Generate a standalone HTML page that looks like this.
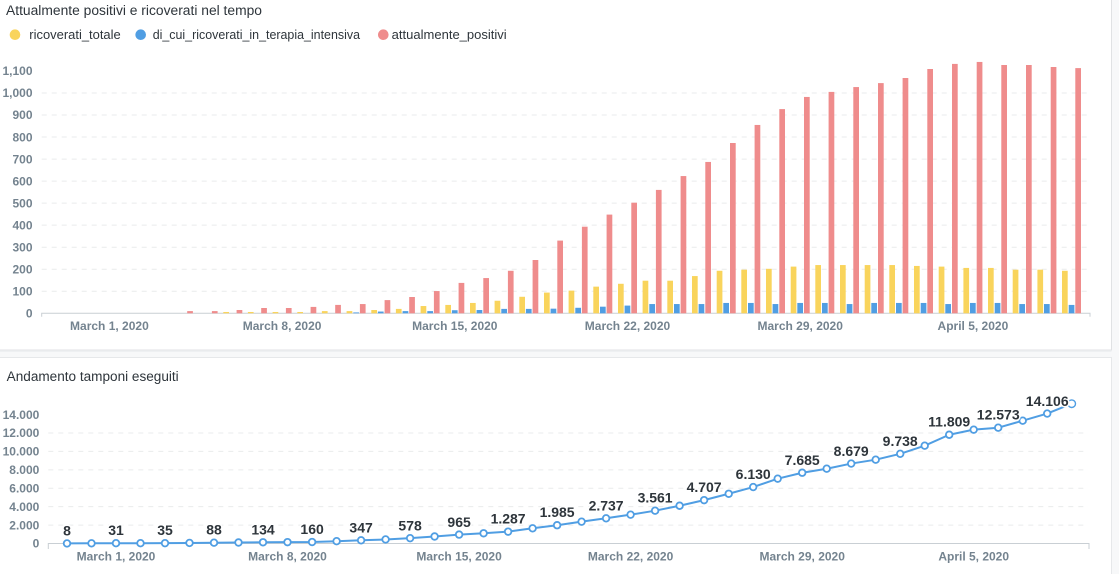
<!DOCTYPE html>
<html><head><meta charset="utf-8"><style>
html,body{margin:0;padding:0;background:#f7f8f9;}
svg{display:block;}
text{font-family:"Liberation Sans",Arial,sans-serif;}
.ax{font-size:12px;font-weight:bold;fill:#74838f;}
.lb{font-size:14px;font-weight:bold;fill:#2e353b;stroke:#fff;stroke-width:3px;paint-order:stroke;stroke-linejoin:round;}
</style></head><body>
<svg width="1119" height="574" viewBox="0 0 1119 574" xmlns="http://www.w3.org/2000/svg">
<rect x="0" y="0" width="1119" height="574" fill="#f7f8f9"/>
<!-- cards -->
<rect x="-3" y="-10" width="1114.5" height="360" fill="#fff" stroke="#e0e2e4" stroke-width="1"/>
<rect x="-3" y="357.5" width="1114.5" height="230" fill="#fff" stroke="#e6e8ea" stroke-width="1"/>
<line x1="-3" y1="351" x2="1111.5" y2="351" stroke="#eceef0" stroke-width="1.5"/>

<!-- TOP CHART -->
<text x="6" y="15" font-size="13.5" fill="#2e353b" textLength="256" lengthAdjust="spacingAndGlyphs">Attualmente positivi e ricoverati nel tempo</text>
<circle cx="15" cy="34.7" r="5.3" fill="#F9D45C"/>
<text x="29.3" y="39" font-size="12.6" fill="#2e353b" textLength="91.4" lengthAdjust="spacingAndGlyphs">ricoverati_totale</text>
<circle cx="140.7" cy="34.7" r="5.3" fill="#509EE3"/>
<text x="152.7" y="39" font-size="12.6" fill="#2e353b" textLength="207.3" lengthAdjust="spacingAndGlyphs">di_cui_ricoverati_in_terapia_intensiva</text>
<circle cx="383.3" cy="34.7" r="5.3" fill="#EF8C8C"/>
<text x="391.7" y="39" font-size="12.6" fill="#2e353b" textLength="115" lengthAdjust="spacingAndGlyphs">attualmente_positivi</text>

<g stroke="#e9ebec" stroke-width="1" stroke-dasharray="5,5">
<line x1="41.7" x2="1089" y1="291.27" y2="291.27"/>
<line x1="41.7" x2="1089" y1="269.24" y2="269.24"/>
<line x1="41.7" x2="1089" y1="247.21" y2="247.21"/>
<line x1="41.7" x2="1089" y1="225.18" y2="225.18"/>
<line x1="41.7" x2="1089" y1="203.15" y2="203.15"/>
<line x1="41.7" x2="1089" y1="181.12" y2="181.12"/>
<line x1="41.7" x2="1089" y1="159.09" y2="159.09"/>
<line x1="41.7" x2="1089" y1="137.06" y2="137.06"/>
<line x1="41.7" x2="1089" y1="115.03" y2="115.03"/>
<line x1="41.7" x2="1089" y1="93.0" y2="93.0"/>
</g>
<g class="ax" text-anchor="end">
<text x="32.5" y="317.5">0</text>
<text x="32.5" y="295.5">100</text>
<text x="32.5" y="273.4">200</text>
<text x="32.5" y="251.4">300</text>
<text x="32.5" y="229.4">400</text>
<text x="32.5" y="207.4">500</text>
<text x="32.5" y="185.3">600</text>
<text x="32.5" y="163.3">700</text>
<text x="32.5" y="141.3">800</text>
<text x="32.5" y="119.2">900</text>
<text x="32.5" y="97.2">1,000</text>
<text x="32.5" y="75.2">1,100</text>
</g>
<g stroke="#c9cfd4" stroke-width="1" fill="none">
<path d="M41.7 316.8 V313.3 H1090 V316.8"/>
</g>
<g class="ax" text-anchor="middle">
<text x="109.4" y="330">March 1, 2020</text>
<text x="282.1" y="330">March 8, 2020</text>
<text x="454.8" y="330">March 15, 2020</text>
<text x="627.5" y="330">March 22, 2020</text>
<text x="800.2" y="330">March 29, 2020</text>
<text x="972.9" y="330">April 5, 2020</text>
</g>
<!-- yellow bars -->
<g fill="#F9D45C">
<rect x="223.3" y="311.98" width="5.7" height="1.32"/>
<rect x="247.9" y="311.98" width="5.7" height="1.32"/>
<rect x="272.6" y="311.98" width="5.7" height="1.32"/>
<rect x="297.3" y="311.98" width="5.7" height="1.32"/>
<rect x="321.9" y="311.1" width="5.7" height="2.2"/>
<rect x="346.6" y="311.1" width="5.7" height="2.2"/>
<rect x="371.3" y="310.0" width="5.7" height="3.3"/>
<rect x="395.9" y="308.9" width="5.7" height="4.41"/>
<rect x="420.6" y="306.03" width="5.7" height="7.27"/>
<rect x="445.3" y="304.93" width="5.7" height="8.37"/>
<rect x="470.0" y="302.95" width="5.7" height="10.35"/>
<rect x="494.6" y="300.74" width="5.7" height="12.56"/>
<rect x="519.3" y="296.78" width="5.7" height="16.52"/>
<rect x="544.0" y="292.59" width="5.7" height="20.71"/>
<rect x="568.6" y="290.61" width="5.7" height="22.69"/>
<rect x="593.3" y="286.64" width="5.7" height="26.66"/>
<rect x="618.0" y="283.78" width="5.7" height="29.52"/>
<rect x="642.6" y="280.7" width="5.7" height="32.6"/>
<rect x="667.3" y="280.7" width="5.7" height="32.6"/>
<rect x="692.0" y="276.07" width="5.7" height="37.23"/>
<rect x="716.7" y="270.78" width="5.7" height="42.52"/>
<rect x="741.3" y="269.68" width="5.7" height="43.62"/>
<rect x="766.0" y="268.8" width="5.7" height="44.5"/>
<rect x="790.7" y="266.6" width="5.7" height="46.7"/>
<rect x="815.3" y="265.05" width="5.7" height="48.25"/>
<rect x="840.0" y="265.05" width="5.7" height="48.25"/>
<rect x="864.7" y="265.05" width="5.7" height="48.25"/>
<rect x="889.3" y="265.05" width="5.7" height="48.25"/>
<rect x="914.0" y="265.94" width="5.7" height="47.36"/>
<rect x="938.7" y="266.6" width="5.7" height="46.7"/>
<rect x="963.4" y="267.92" width="5.7" height="45.38"/>
<rect x="988.0" y="267.92" width="5.7" height="45.38"/>
<rect x="1012.7" y="269.68" width="5.7" height="43.62"/>
<rect x="1037.4" y="269.68" width="5.7" height="43.62"/>
<rect x="1062.0" y="270.78" width="5.7" height="42.52"/>
</g>
<!-- blue bars -->
<g fill="#509EE3">
<rect x="353.3" y="312.42" width="5.7" height="0.88"/>
<rect x="377.9" y="311.54" width="5.7" height="1.76"/>
<rect x="402.6" y="311.1" width="5.7" height="2.2"/>
<rect x="427.3" y="311.1" width="5.7" height="2.2"/>
<rect x="451.9" y="310.22" width="5.7" height="3.08"/>
<rect x="476.6" y="310.0" width="5.7" height="3.3"/>
<rect x="501.3" y="308.89" width="5.7" height="4.41"/>
<rect x="525.9" y="308.89" width="5.7" height="4.41"/>
<rect x="550.6" y="308.67" width="5.7" height="4.63"/>
<rect x="575.3" y="307.79" width="5.7" height="5.51"/>
<rect x="600.0" y="306.69" width="5.7" height="6.61"/>
<rect x="624.6" y="305.59" width="5.7" height="7.71"/>
<rect x="649.3" y="304.05" width="5.7" height="9.25"/>
<rect x="674.0" y="304.05" width="5.7" height="9.25"/>
<rect x="698.6" y="304.05" width="5.7" height="9.25"/>
<rect x="723.3" y="302.95" width="5.7" height="10.35"/>
<rect x="748.0" y="302.95" width="5.7" height="10.35"/>
<rect x="772.6" y="304.05" width="5.7" height="9.25"/>
<rect x="797.3" y="302.95" width="5.7" height="10.35"/>
<rect x="822.0" y="302.95" width="5.7" height="10.35"/>
<rect x="846.7" y="304.05" width="5.7" height="9.25"/>
<rect x="871.3" y="302.95" width="5.7" height="10.35"/>
<rect x="896.0" y="302.95" width="5.7" height="10.35"/>
<rect x="920.7" y="302.95" width="5.7" height="10.35"/>
<rect x="945.3" y="304.05" width="5.7" height="9.25"/>
<rect x="970.0" y="302.95" width="5.7" height="10.35"/>
<rect x="994.7" y="302.95" width="5.7" height="10.35"/>
<rect x="1019.3" y="304.05" width="5.7" height="9.25"/>
<rect x="1044.0" y="304.05" width="5.7" height="9.25"/>
<rect x="1068.7" y="304.93" width="5.7" height="8.37"/>
</g>
<!-- red bars -->
<g fill="#EF8C8C">
<rect x="187.2" y="311.1" width="5.7" height="2.2"/>
<rect x="211.9" y="311.1" width="5.7" height="2.2"/>
<rect x="236.6" y="310.0" width="5.7" height="3.3"/>
<rect x="261.2" y="308.0" width="5.7" height="5.3"/>
<rect x="285.9" y="308.0" width="5.7" height="5.3"/>
<rect x="310.6" y="306.9" width="5.7" height="6.4"/>
<rect x="335.2" y="304.9" width="5.7" height="8.4"/>
<rect x="359.9" y="304.05" width="5.7" height="9.25"/>
<rect x="384.6" y="300.1" width="5.7" height="13.2"/>
<rect x="409.2" y="297.0" width="5.7" height="16.3"/>
<rect x="433.9" y="291.05" width="5.7" height="22.25"/>
<rect x="458.6" y="282.9" width="5.7" height="30.4"/>
<rect x="483.3" y="278.05" width="5.7" height="35.25"/>
<rect x="507.9" y="270.8" width="5.7" height="42.5"/>
<rect x="532.6" y="260.0" width="5.7" height="53.3"/>
<rect x="557.3" y="240.6" width="5.7" height="72.7"/>
<rect x="581.9" y="226.7" width="5.7" height="86.6"/>
<rect x="606.6" y="214.6" width="5.7" height="98.7"/>
<rect x="631.3" y="202.7" width="5.7" height="110.6"/>
<rect x="655.9" y="189.9" width="5.7" height="123.4"/>
<rect x="680.6" y="176.05" width="5.7" height="137.25"/>
<rect x="705.3" y="161.95" width="5.7" height="151.35"/>
<rect x="730.0" y="143.0" width="5.7" height="170.3"/>
<rect x="754.6" y="124.95" width="5.7" height="188.35"/>
<rect x="779.3" y="109.1" width="5.7" height="204.2"/>
<rect x="804.0" y="96.95" width="5.7" height="216.35"/>
<rect x="828.6" y="91.9" width="5.7" height="221.4"/>
<rect x="853.3" y="87.05" width="5.7" height="226.25"/>
<rect x="878.0" y="83.1" width="5.7" height="230.2"/>
<rect x="902.6" y="78.0" width="5.7" height="235.3"/>
<rect x="927.3" y="69.0" width="5.7" height="244.3"/>
<rect x="952.0" y="63.9" width="5.7" height="249.4"/>
<rect x="976.7" y="61.95" width="5.7" height="251.35"/>
<rect x="1001.3" y="65.0" width="5.7" height="248.3"/>
<rect x="1026.0" y="65.0" width="5.7" height="248.3"/>
<rect x="1050.7" y="67.0" width="5.7" height="246.3"/>
<rect x="1075.3" y="68.1" width="5.7" height="245.2"/>
</g>

<!-- BOTTOM CHART -->
<text x="6.7" y="381" font-size="13.5" fill="#2e353b" textLength="172" lengthAdjust="spacingAndGlyphs">Andamento tamponi eseguiti</text>
<g stroke="#e9ebec" stroke-width="1" stroke-dasharray="5,5">
<line x1="48.3" x2="1088" y1="525.08" y2="525.08"/>
<line x1="48.3" x2="1088" y1="506.66" y2="506.66"/>
<line x1="48.3" x2="1088" y1="488.24" y2="488.24"/>
<line x1="48.3" x2="1088" y1="469.82" y2="469.82"/>
<line x1="48.3" x2="1088" y1="451.4" y2="451.4"/>
<line x1="48.3" x2="1088" y1="432.98" y2="432.98"/>
</g>
<g class="ax" text-anchor="end">
<text x="39.3" y="547.7">0</text>
<text x="39.3" y="529.3">2.000</text>
<text x="39.3" y="510.9">4.000</text>
<text x="39.3" y="492.4">6.000</text>
<text x="39.3" y="474.0">8.000</text>
<text x="39.3" y="455.6">10.000</text>
<text x="39.3" y="437.2">12.000</text>
<text x="39.3" y="418.8">14.000</text>
</g>
<path d="M48.3 549 V543.5 H1089 V549" stroke="#c9cfd4" stroke-width="1" fill="none"/>
<g class="ax" text-anchor="middle">
<text x="116.0" y="560.5">March 1, 2020</text>
<text x="287.5" y="560.5">March 8, 2020</text>
<text x="459.1" y="560.5">March 15, 2020</text>
<text x="630.6" y="560.5">March 22, 2020</text>
<text x="802.2" y="560.5">March 29, 2020</text>
<text x="973.7" y="560.5">April 5, 2020</text>
</g>
<polyline fill="none" stroke="#509EE3" stroke-width="2" stroke-linejoin="round" points="67.0,543.43 91.5,543.3 116.0,543.2 140.5,543.2 165.0,543.18 189.5,542.95 214.0,542.7 238.5,542.5 263.0,542.27 287.5,542.15 312.1,542.03 336.6,541.2 361.1,540.3 385.6,539.45 410.1,538.18 434.6,536.5 459.1,534.61 483.6,533.28 508.1,531.65 532.6,528.3 557.1,525.22 581.6,521.67 606.1,518.29 630.6,514.67 655.1,510.7 679.6,505.74 704.1,500.15 728.7,493.77 753.2,487.04 777.7,478.66 802.2,472.72 826.7,468.71 851.2,463.57 875.7,459.69 900.2,453.81 924.7,445.69 949.2,434.74 973.7,429.66 998.2,427.7 1022.7,420.69 1047.2,413.58 1071.7,403.7"/>
<g fill="#fff" stroke="#509EE3" stroke-width="1.8">
<circle cx="67.0" cy="543.43" r="3.3"/><circle cx="91.5" cy="543.3" r="3.3"/><circle cx="116.0" cy="543.2" r="3.3"/><circle cx="140.5" cy="543.2" r="3.3"/><circle cx="165.0" cy="543.18" r="3.3"/><circle cx="189.5" cy="542.95" r="3.3"/><circle cx="214.0" cy="542.7" r="3.3"/><circle cx="238.5" cy="542.5" r="3.3"/><circle cx="263.0" cy="542.27" r="3.3"/><circle cx="287.5" cy="542.15" r="3.3"/><circle cx="312.1" cy="542.03" r="3.3"/><circle cx="336.6" cy="541.2" r="3.3"/><circle cx="361.1" cy="540.3" r="3.3"/><circle cx="385.6" cy="539.45" r="3.3"/><circle cx="410.1" cy="538.18" r="3.3"/><circle cx="434.6" cy="536.5" r="3.3"/><circle cx="459.1" cy="534.61" r="3.3"/><circle cx="483.6" cy="533.28" r="3.3"/><circle cx="508.1" cy="531.65" r="3.3"/><circle cx="532.6" cy="528.3" r="3.3"/><circle cx="557.1" cy="525.22" r="3.3"/><circle cx="581.6" cy="521.67" r="3.3"/><circle cx="606.1" cy="518.29" r="3.3"/><circle cx="630.6" cy="514.67" r="3.3"/><circle cx="655.1" cy="510.7" r="3.3"/><circle cx="679.6" cy="505.74" r="3.3"/><circle cx="704.1" cy="500.15" r="3.3"/><circle cx="728.7" cy="493.77" r="3.3"/><circle cx="753.2" cy="487.04" r="3.3"/><circle cx="777.7" cy="478.66" r="3.3"/><circle cx="802.2" cy="472.72" r="3.3"/><circle cx="826.7" cy="468.71" r="3.3"/><circle cx="851.2" cy="463.57" r="3.3"/><circle cx="875.7" cy="459.69" r="3.3"/><circle cx="900.2" cy="453.81" r="3.3"/><circle cx="924.7" cy="445.69" r="3.3"/><circle cx="949.2" cy="434.74" r="3.3"/><circle cx="973.7" cy="429.66" r="3.3"/><circle cx="998.2" cy="427.7" r="3.3"/><circle cx="1022.7" cy="420.69" r="3.3"/><circle cx="1047.2" cy="413.58" r="3.3"/>
<circle cx="1071.7" cy="403.7" r="3.8" stroke-width="1.4"/>
</g>
<g class="lb" text-anchor="middle">
<text x="67.0" y="535.4">8</text>
<text x="116.0" y="535.2">31</text>
<text x="165.0" y="535.2">35</text>
<text x="214.0" y="534.7">88</text>
<text x="263.0" y="534.3">134</text>
<text x="312.1" y="534.0">160</text>
<text x="361.1" y="532.3">347</text>
<text x="410.1" y="530.7">578</text>
<text x="459.1" y="526.8">965</text>
<text x="508.1" y="523.7">1.287</text>
<text x="557.1" y="517.2">1.985</text>
<text x="606.1" y="510.3">2.737</text>
<text x="655.1" y="502.7">3.561</text>
<text x="704.1" y="492.2">4.707</text>
<text x="753.2" y="479.0">6.130</text>
<text x="802.2" y="465.2">7.685</text>
<text x="851.2" y="455.8">8.679</text>
<text x="900.2" y="446.0">9.738</text>
<text x="949.2" y="426.7">11.809</text>
<text x="998.2" y="419.7">12.573</text>
<text x="1047.2" y="406.0">14.106</text>
</g>
</svg>
</body></html>
